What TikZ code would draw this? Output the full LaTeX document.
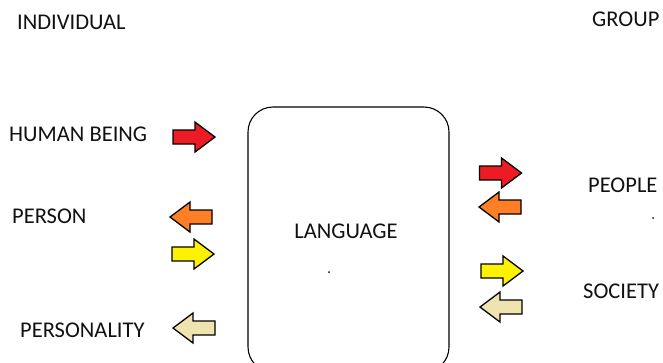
\documentclass[tikz,border=0pt]{standalone}
\usepackage{fontspec}
\setmainfont{Carlito}
\definecolor{ared}{HTML}{ED1C24}
\definecolor{aorange}{HTML}{FF7F27}
\definecolor{ayellow}{HTML}{FFF200}
\definecolor{abeige}{HTML}{EFE4B0}
\definecolor{txt}{HTML}{111111}
\tikzset{
  lbl/.style={anchor=west, inner sep=0pt, text=txt, font=\fontsize{22.5}{26}\selectfont},
  clbl/.style={anchor=center, inner sep=0pt, text=txt, font=\fontsize{22.5}{26}\selectfont},
  blockarrow/.pic={
    \draw[line width=1.3pt, line join=miter, fill=\pgfkeysvalueof{/tikz/arrowfill}]
      (-21,-7) -- (1,-7) -- (1,-15) -- (21,0) -- (1,15) -- (1,7) -- (-21,7) -- cycle;
  },
  arrowfill/.initial=red,
  dotmark/.style={circle, fill=txt, inner sep=0pt, minimum size=2pt},
}
\begin{document}
\begin{tikzpicture}[x=1pt,y=-1pt]
\useasboundingbox (0,0) rectangle (663,362);
\clip (0,0) rectangle (663,362);
% labels
\node[lbl] (individual) at (17,22) {INDIVIDUAL};
\node[lbl] (group) at (592,19) {GROUP};
\node[lbl] (human) at (9,134) {HUMAN BEING};
\node[lbl] (person) at (12,216) {PERSON};
\node[lbl] (personality) at (20,330) {PERSONALITY};
\node[lbl] (people) at (588,185) {PEOPLE};
\node[lbl] (society) at (583,291) {SOCIETY};
% central box
\node[draw, line width=1.1pt, rounded corners=25pt, minimum width=201pt, minimum height=265pt, inner sep=0pt] (box) at (348.5,239.5) {};
\node[clbl] (language) at (346,231) {LANGUAGE};
\node[dotmark] (d1) at (329,272) {};
\node[dotmark] (d2) at (653,218) {};
% left arrows
\pic[arrowfill=ared] at (194,137) {blockarrow};
\pic[arrowfill=aorange, xscale=-1] at (191,217) {blockarrow};
\pic[arrowfill=ayellow] at (193,254) {blockarrow};
\pic[arrowfill=abeige, xscale=-1] at (194,328) {blockarrow};
% right arrows
\pic[arrowfill=ared] at (500.5,173) {blockarrow};
\pic[arrowfill=aorange, xscale=-1] at (500,207) {blockarrow};
\pic[arrowfill=ayellow] at (502,271) {blockarrow};
\pic[arrowfill=abeige, xscale=-1] at (501,307) {blockarrow};
\end{tikzpicture}
\end{document}
